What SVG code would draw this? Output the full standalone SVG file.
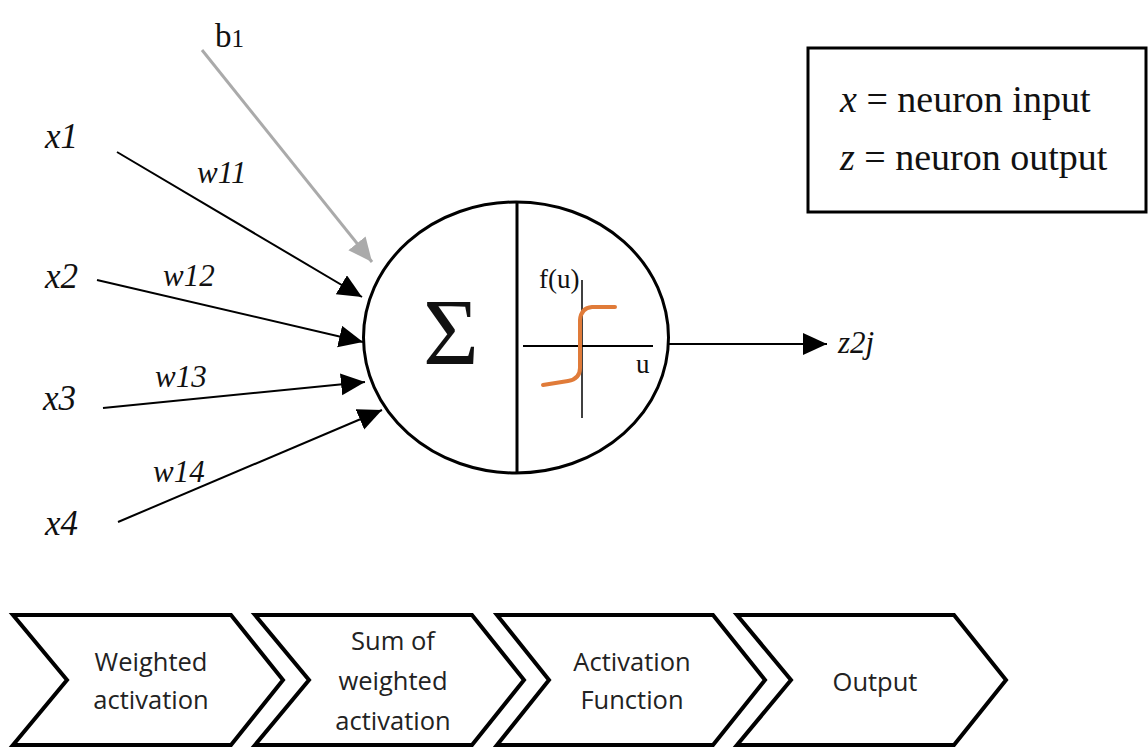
<svg xmlns="http://www.w3.org/2000/svg" width="1148" height="748" viewBox="0 0 1148 748">
<style>
.serif{font-family:"Liberation Serif","Times New Roman",serif;fill:#111}
.it{font-style:italic}
.lbl{font-size:35px}
.w{font-size:31px}
.leg{font-size:38px}
.step{font-family:"Open Sans","Liberation Sans",sans-serif;font-size:25.5px;fill:#222;text-anchor:middle}
.chev{fill:#fff;stroke:#000;stroke-width:4;stroke-linejoin:miter}
.conn{stroke:#000;stroke-width:2;fill:none}
</style>
<defs>
<marker id="ah" markerUnits="userSpaceOnUse" markerWidth="26" markerHeight="24" refX="24" refY="11" orient="auto">
<path d="M0,0 L24,11 L0,22 z" fill="#000"/>
</marker>
<marker id="ahg" markerUnits="userSpaceOnUse" markerWidth="26" markerHeight="24" refX="24" refY="11" orient="auto">
<path d="M0,0 L24,11 L0,22 z" fill="#aaa"/>
</marker>
</defs>
<rect width="1148" height="748" fill="#fff"/>

<g id="connectors">
<line x1="202" y1="50" x2="372" y2="262" stroke="#aaa" stroke-width="3" marker-end="url(#ahg)"/>
<line class="conn" x1="117" y1="152" x2="362" y2="297" marker-end="url(#ah)"/>
<line class="conn" x1="97" y1="280" x2="363" y2="342" marker-end="url(#ah)"/>
<line class="conn" x1="103" y1="408" x2="365" y2="382" marker-end="url(#ah)"/>
<line class="conn" x1="118" y1="522" x2="382" y2="410" marker-end="url(#ah)"/>
<line class="conn" x1="668" y1="344" x2="827" y2="344" stroke-width="1.5" marker-end="url(#ah)"/>
</g>

<g id="bias"><text class="serif" x="215" y="47" font-size="33">b<tspan font-size="25">1</tspan></text></g>
<g id="input-x1"><text class="serif it lbl" x="45" y="148">x1</text></g>
<g id="input-x2"><text class="serif it lbl" x="45" y="288">x2</text></g>
<g id="input-x3"><text class="serif it lbl" x="43" y="410">x3</text></g>
<g id="input-x4"><text class="serif it lbl" x="45" y="535">x4</text></g>
<g id="weights">
<text class="serif it w" x="197" y="183">w11</text>
<text class="serif it w" x="163" y="286">w12</text>
<text class="serif it w" x="155" y="387">w13</text>
<text class="serif it w" x="153" y="482">w14</text>
</g>

<g id="neuron">
<ellipse cx="516" cy="337.5" rx="152.5" ry="135.5" fill="#fff" stroke="#000" stroke-width="3"/>
<line x1="517" y1="202" x2="517" y2="473" stroke="#000" stroke-width="3"/>
<text class="serif" x="451" y="365" font-size="96" text-anchor="middle">Σ</text>
<line x1="523" y1="346" x2="653" y2="346" stroke="#000" stroke-width="1.8"/>
<line x1="582" y1="280" x2="582" y2="418" stroke="#000" stroke-width="1.5"/>
<text class="serif" x="539" y="288" font-size="27">f(u)</text>
<text class="serif" x="636" y="373" font-size="27">u</text>
<path d="M543,385 L568,381 Q580,379 580,368 L580,320 Q581,308 592,307 L615,307" fill="none" stroke="#e07b39" stroke-width="4" stroke-linecap="round"/>
</g>

<g id="output"><text class="serif it" x="838" y="353" font-size="31">z2j</text></g>

<g id="legend">
<rect x="808" y="48" width="338" height="164" fill="#fff" stroke="#000" stroke-width="3"/>
<text class="serif leg" x="840" y="112"><tspan font-style="italic">x</tspan> = neuron input</text>
<text class="serif leg" x="840" y="170"><tspan font-style="italic">z</tspan> = neuron output</text>
</g>

<g id="step1">
<polygon class="chev" points="13,615 231,615 283,680 231,745 13,745 67,680"/>
<text class="step" x="151" y="671">Weighted</text>
<text class="step" x="151" y="709">activation</text>
</g>
<g id="step2">
<polygon class="chev" points="255,615 472,615 524,680 472,745 255,745 309,680"/>
<text class="step" x="393" y="650">Sum of</text>
<text class="step" x="393" y="690">weighted</text>
<text class="step" x="393" y="730">activation</text>
</g>
<g id="step3">
<polygon class="chev" points="497,615 713,615 765,680 713,745 497,745 549,680"/>
<text class="step" x="632" y="671">Activation</text>
<text class="step" x="632" y="709">Function</text>
</g>
<g id="step4">
<polygon class="chev" points="737,615 954,615 1006,680 954,745 737,745 791,680"/>
<text class="step" x="875" y="691">Output</text>
</g>
</svg>
